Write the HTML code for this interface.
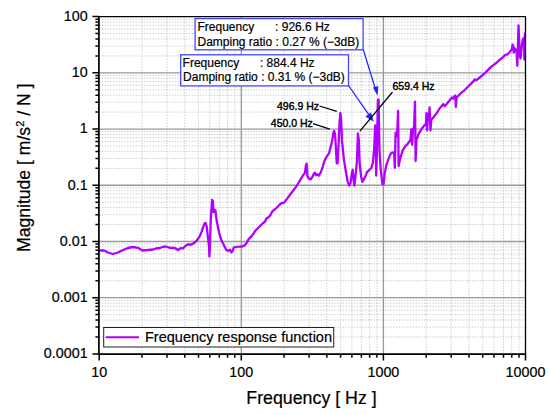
<!DOCTYPE html>
<html><head><meta charset="utf-8"><style>
html,body{margin:0;padding:0;background:#fff;}
svg{display:block;}
.mn{stroke:#c8c8c8;stroke-width:1;stroke-dasharray:1.3 1.5;}
.mj{stroke:#999999;stroke-width:1.3;}
text{font-family:"Liberation Sans", sans-serif;fill:#000;stroke:#000;stroke-width:0.2px;}
.tl{font-size:14.3px;}
.an{font-size:12px;}
.pk{font-size:10.5px;stroke:#000;stroke-width:0.4px;}
</style></head><body>
<svg width="550" height="415" viewBox="0 0 550 415">
<rect width="550" height="415" fill="#fff"/>
<line x1="141.98" y1="16.60" x2="141.98" y2="353.92" class="mn"/>
<line x1="167.00" y1="16.60" x2="167.00" y2="353.92" class="mn"/>
<line x1="184.75" y1="16.60" x2="184.75" y2="353.92" class="mn"/>
<line x1="198.52" y1="16.60" x2="198.52" y2="353.92" class="mn"/>
<line x1="209.78" y1="16.60" x2="209.78" y2="353.92" class="mn"/>
<line x1="219.29" y1="16.60" x2="219.29" y2="353.92" class="mn"/>
<line x1="227.53" y1="16.60" x2="227.53" y2="353.92" class="mn"/>
<line x1="234.80" y1="16.60" x2="234.80" y2="353.92" class="mn"/>
<line x1="284.08" y1="16.60" x2="284.08" y2="353.92" class="mn"/>
<line x1="309.10" y1="16.60" x2="309.10" y2="353.92" class="mn"/>
<line x1="326.85" y1="16.60" x2="326.85" y2="353.92" class="mn"/>
<line x1="340.62" y1="16.60" x2="340.62" y2="353.92" class="mn"/>
<line x1="351.88" y1="16.60" x2="351.88" y2="353.92" class="mn"/>
<line x1="361.39" y1="16.60" x2="361.39" y2="353.92" class="mn"/>
<line x1="369.63" y1="16.60" x2="369.63" y2="353.92" class="mn"/>
<line x1="376.90" y1="16.60" x2="376.90" y2="353.92" class="mn"/>
<line x1="426.18" y1="16.60" x2="426.18" y2="353.92" class="mn"/>
<line x1="451.20" y1="16.60" x2="451.20" y2="353.92" class="mn"/>
<line x1="468.95" y1="16.60" x2="468.95" y2="353.92" class="mn"/>
<line x1="482.72" y1="16.60" x2="482.72" y2="353.92" class="mn"/>
<line x1="493.98" y1="16.60" x2="493.98" y2="353.92" class="mn"/>
<line x1="503.49" y1="16.60" x2="503.49" y2="353.92" class="mn"/>
<line x1="511.73" y1="16.60" x2="511.73" y2="353.92" class="mn"/>
<line x1="519.00" y1="16.60" x2="519.00" y2="353.92" class="mn"/>
<line x1="99.20" y1="337.00" x2="525.50" y2="337.00" class="mn"/>
<line x1="99.20" y1="327.10" x2="525.50" y2="327.10" class="mn"/>
<line x1="99.20" y1="320.07" x2="525.50" y2="320.07" class="mn"/>
<line x1="99.20" y1="314.62" x2="525.50" y2="314.62" class="mn"/>
<line x1="99.20" y1="310.17" x2="525.50" y2="310.17" class="mn"/>
<line x1="99.20" y1="306.41" x2="525.50" y2="306.41" class="mn"/>
<line x1="99.20" y1="303.15" x2="525.50" y2="303.15" class="mn"/>
<line x1="99.20" y1="300.27" x2="525.50" y2="300.27" class="mn"/>
<line x1="99.20" y1="280.78" x2="525.50" y2="280.78" class="mn"/>
<line x1="99.20" y1="270.88" x2="525.50" y2="270.88" class="mn"/>
<line x1="99.20" y1="263.85" x2="525.50" y2="263.85" class="mn"/>
<line x1="99.20" y1="258.40" x2="525.50" y2="258.40" class="mn"/>
<line x1="99.20" y1="253.95" x2="525.50" y2="253.95" class="mn"/>
<line x1="99.20" y1="250.19" x2="525.50" y2="250.19" class="mn"/>
<line x1="99.20" y1="246.93" x2="525.50" y2="246.93" class="mn"/>
<line x1="99.20" y1="244.05" x2="525.50" y2="244.05" class="mn"/>
<line x1="99.20" y1="224.56" x2="525.50" y2="224.56" class="mn"/>
<line x1="99.20" y1="214.66" x2="525.50" y2="214.66" class="mn"/>
<line x1="99.20" y1="207.63" x2="525.50" y2="207.63" class="mn"/>
<line x1="99.20" y1="202.18" x2="525.50" y2="202.18" class="mn"/>
<line x1="99.20" y1="197.73" x2="525.50" y2="197.73" class="mn"/>
<line x1="99.20" y1="193.97" x2="525.50" y2="193.97" class="mn"/>
<line x1="99.20" y1="190.71" x2="525.50" y2="190.71" class="mn"/>
<line x1="99.20" y1="187.83" x2="525.50" y2="187.83" class="mn"/>
<line x1="99.20" y1="168.34" x2="525.50" y2="168.34" class="mn"/>
<line x1="99.20" y1="158.44" x2="525.50" y2="158.44" class="mn"/>
<line x1="99.20" y1="151.41" x2="525.50" y2="151.41" class="mn"/>
<line x1="99.20" y1="145.96" x2="525.50" y2="145.96" class="mn"/>
<line x1="99.20" y1="141.51" x2="525.50" y2="141.51" class="mn"/>
<line x1="99.20" y1="137.75" x2="525.50" y2="137.75" class="mn"/>
<line x1="99.20" y1="134.49" x2="525.50" y2="134.49" class="mn"/>
<line x1="99.20" y1="131.61" x2="525.50" y2="131.61" class="mn"/>
<line x1="99.20" y1="112.12" x2="525.50" y2="112.12" class="mn"/>
<line x1="99.20" y1="102.22" x2="525.50" y2="102.22" class="mn"/>
<line x1="99.20" y1="95.19" x2="525.50" y2="95.19" class="mn"/>
<line x1="99.20" y1="89.74" x2="525.50" y2="89.74" class="mn"/>
<line x1="99.20" y1="85.29" x2="525.50" y2="85.29" class="mn"/>
<line x1="99.20" y1="81.53" x2="525.50" y2="81.53" class="mn"/>
<line x1="99.20" y1="78.27" x2="525.50" y2="78.27" class="mn"/>
<line x1="99.20" y1="75.39" x2="525.50" y2="75.39" class="mn"/>
<line x1="99.20" y1="55.90" x2="525.50" y2="55.90" class="mn"/>
<line x1="99.20" y1="46.00" x2="525.50" y2="46.00" class="mn"/>
<line x1="99.20" y1="38.97" x2="525.50" y2="38.97" class="mn"/>
<line x1="99.20" y1="33.52" x2="525.50" y2="33.52" class="mn"/>
<line x1="99.20" y1="29.07" x2="525.50" y2="29.07" class="mn"/>
<line x1="99.20" y1="25.31" x2="525.50" y2="25.31" class="mn"/>
<line x1="99.20" y1="22.05" x2="525.50" y2="22.05" class="mn"/>
<line x1="99.20" y1="19.17" x2="525.50" y2="19.17" class="mn"/>
<line x1="241.30" y1="16.60" x2="241.30" y2="353.92" class="mj"/>
<line x1="383.40" y1="16.60" x2="383.40" y2="353.92" class="mj"/>
<line x1="99.20" y1="72.82" x2="525.50" y2="72.82" class="mj"/>
<line x1="99.20" y1="129.04" x2="525.50" y2="129.04" class="mj"/>
<line x1="99.20" y1="185.26" x2="525.50" y2="185.26" class="mj"/>
<line x1="99.20" y1="241.48" x2="525.50" y2="241.48" class="mj"/>
<line x1="99.20" y1="297.70" x2="525.50" y2="297.70" class="mj"/>
<defs><clipPath id="pc"><rect x="99.20" y="16.60" width="426.30" height="337.32"/></clipPath></defs>
<polyline clip-path="url(#pc)" points="99.5,250.5 104.0,250.5 108.0,252.5 113.0,254.0 118.0,252.5 123.0,250.0 128.0,248.0 133.0,247.0 138.0,247.8 142.5,250.5 148.0,250.0 153.0,249.5 156.0,248.5 160.0,248.0 163.0,246.8 166.0,246.5 170.0,247.8 175.0,248.0 178.0,250.0 181.0,248.0 183.0,248.5 185.0,246.2 187.6,244.5 191.8,244.5 194.3,242.8 196.9,240.3 199.4,236.9 201.5,231.9 203.2,226.8 204.5,223.4 205.7,223.0 206.6,226.0 207.8,236.1 209.1,247.0 209.4,256.4 209.9,246.6 210.8,218.4 212.1,199.8 212.8,201.3 213.6,212.2 214.6,209.8 215.5,210.6 216.8,221.6 219.1,232.5 221.4,240.3 224.6,246.6 226.6,250.2 228.3,250.8 229.9,249.7 231.5,252.4 232.6,250.8 233.7,247.5 235.8,246.8 239.1,246.7 242.4,246.5 244.5,245.4 246.7,242.7 248.9,238.9 252.1,235.6 255.4,230.7 258.6,227.5 261.9,224.2 265.1,221.5 266.2,218.8 268.4,217.2 270.2,215.5 272.3,211.4 275.2,209.2 278.1,206.3 281.0,203.4 283.9,202.7 286.8,199.1 290.2,194.5 293.9,189.7 296.7,185.8 299.6,181.0 302.5,176.2 304.9,172.8 305.9,165.6 306.6,163.7 307.1,168.5 307.3,175.7 308.8,178.6 310.4,179.5 312.2,177.2 314.1,173.3 315.0,172.8 316.0,175.2 317.5,174.3 318.9,175.7 320.8,172.3 322.8,166.6 324.3,161.3 326.7,156.6 329.0,153.4 330.6,147.2 332.2,140.9 333.3,133.1 334.2,131.0 335.1,134.7 336.1,151.9 336.8,163.4 337.6,163.4 338.6,144.1 339.5,123.8 340.3,113.0 341.1,119.1 342.0,140.9 343.9,159.6 345.8,171.2 347.7,181.8 349.2,185.6 350.6,182.7 352.0,172.2 352.7,169.8 353.5,178.9 354.3,185.6 355.4,177.0 356.9,161.6 357.9,133.5 358.8,140.0 359.7,164.5 361.2,177.0 362.3,181.8 364.1,178.9 365.5,176.0 367.0,172.2 369.0,170.3 371.4,168.0 372.9,162.5 374.2,148.4 375.2,125.5 375.8,140.0 376.2,175.5 376.8,156.0 377.9,100.0 378.6,99.5 379.5,151.6 380.8,170.3 382.5,184.4 383.5,184.2 384.7,173.4 386.2,165.6 388.6,158.6 390.9,153.4 392.7,152.5 394.1,152.5 394.8,167.8 395.6,132.6 396.3,136.2 397.2,132.6 398.1,111.0 398.6,166.0 399.9,159.7 402.6,150.7 405.3,146.2 408.1,143.4 410.4,140.0 411.3,129.5 412.1,144.8 413.1,128.5 414.0,127.5 415.0,101.6 415.6,161.1 416.5,140.0 418.5,134.2 421.3,129.4 424.2,125.6 425.8,124.6 426.5,113.1 427.1,130.3 428.1,114.1 429.0,118.8 429.6,107.3 430.4,130.3 431.3,119.8 433.8,116.9 436.7,113.1 439.6,108.5 441.5,106.3 443.3,104.1 444.6,106.2 446.6,104.1 449.3,100.8 451.9,97.4 453.3,98.8 454.6,96.1 455.3,95.5 455.9,107.0 456.6,97.4 458.6,95.5 461.2,92.8 463.9,90.8 465.2,89.5 467.9,86.8 471.8,82.9 473.8,80.9 474.5,79.5 476.5,80.2 479.8,77.5 483.8,74.2 487.1,70.9 490.8,67.1 493.7,64.9 496.6,62.8 499.5,59.9 502.4,57.7 505.3,54.8 507.5,54.3 510.0,51.8 511.9,49.3 512.5,44.6 513.1,45.5 513.8,52.6 514.4,48.0 515.6,49.3 516.5,51.8 517.3,65.8 517.9,49.3 518.5,25.3 519.0,36.8 519.8,55.8 520.6,58.3 521.3,50.5 522.3,42.4 523.1,38.6 524.0,38.0 524.4,59.5 524.8,35.5 525.3,33.0" fill="none" stroke="#b000ff" stroke-width="2.3" stroke-linejoin="round" stroke-linecap="round"/>
<path d="M99.20 353.92V360.42M241.30 353.92V360.42M383.40 353.92V360.42M525.50 353.92V360.42M141.98 353.92V357.72M167.00 353.92V357.72M184.75 353.92V357.72M198.52 353.92V357.72M209.78 353.92V357.72M219.29 353.92V357.72M227.53 353.92V357.72M234.80 353.92V357.72M284.08 353.92V357.72M309.10 353.92V357.72M326.85 353.92V357.72M340.62 353.92V357.72M351.88 353.92V357.72M361.39 353.92V357.72M369.63 353.92V357.72M376.90 353.92V357.72M426.18 353.92V357.72M451.20 353.92V357.72M468.95 353.92V357.72M482.72 353.92V357.72M493.98 353.92V357.72M503.49 353.92V357.72M511.73 353.92V357.72M519.00 353.92V357.72M99.20 16.60H92.40M99.20 72.82H92.40M99.20 129.04H92.40M99.20 185.26H92.40M99.20 241.48H92.40M99.20 297.70H92.40M99.20 353.92H92.40M99.20 337.00H95.40M99.20 327.10H95.40M99.20 320.07H95.40M99.20 314.62H95.40M99.20 310.17H95.40M99.20 306.41H95.40M99.20 303.15H95.40M99.20 300.27H95.40M99.20 280.78H95.40M99.20 270.88H95.40M99.20 263.85H95.40M99.20 258.40H95.40M99.20 253.95H95.40M99.20 250.19H95.40M99.20 246.93H95.40M99.20 244.05H95.40M99.20 224.56H95.40M99.20 214.66H95.40M99.20 207.63H95.40M99.20 202.18H95.40M99.20 197.73H95.40M99.20 193.97H95.40M99.20 190.71H95.40M99.20 187.83H95.40M99.20 168.34H95.40M99.20 158.44H95.40M99.20 151.41H95.40M99.20 145.96H95.40M99.20 141.51H95.40M99.20 137.75H95.40M99.20 134.49H95.40M99.20 131.61H95.40M99.20 112.12H95.40M99.20 102.22H95.40M99.20 95.19H95.40M99.20 89.74H95.40M99.20 85.29H95.40M99.20 81.53H95.40M99.20 78.27H95.40M99.20 75.39H95.40M99.20 55.90H95.40M99.20 46.00H95.40M99.20 38.97H95.40M99.20 33.52H95.40M99.20 29.07H95.40M99.20 25.31H95.40M99.20 22.05H95.40M99.20 19.17H95.40" stroke="#000" stroke-width="1.5" fill="none"/>
<path d="M99.20 16.60H525.50V353.92" stroke="#000" stroke-width="1.3" fill="none"/>
<path d="M98.90 16.00V354.12H526.10" stroke="#000" stroke-width="1.7" fill="none"/>
<text x="99.20" y="376.9" text-anchor="middle" class="tl">10</text><text x="241.30" y="376.9" text-anchor="middle" class="tl">100</text><text x="383.40" y="376.9" text-anchor="middle" class="tl">1000</text><text x="525.50" y="376.9" text-anchor="middle" class="tl">10000</text>
<text x="87.6" y="20.90" text-anchor="end" class="tl">100</text><text x="87.6" y="77.12" text-anchor="end" class="tl">10</text><text x="87.6" y="133.34" text-anchor="end" class="tl">1</text><text x="87.6" y="189.56" text-anchor="end" class="tl">0.1</text><text x="87.6" y="245.78" text-anchor="end" class="tl">0.01</text><text x="87.6" y="302.00" text-anchor="end" class="tl">0.001</text><text x="87.6" y="358.22" text-anchor="end" class="tl">0.0001</text>
<text x="311.5" y="403.6" text-anchor="middle" style="font-size:17.8px">Frequency [ Hz ]</text>
<text transform="translate(30,167.8) rotate(-90)" text-anchor="middle" style="font-size:17.6px">Magnitude [ m/s<tspan dy="-6" style="font-size:11px">2</tspan><tspan dy="6"> / N ]</tspan></text>
<!-- legend -->
<rect x="103.7" y="327.5" width="230" height="19.5" fill="#fff" stroke="#222" stroke-width="1"/>
<line x1="105.6" y1="337.3" x2="139" y2="337.3" stroke="#b000ff" stroke-width="2"/>
<text x="145" y="341.5" style="font-size:14.5px">Frequency response function</text>
<!-- annotations -->
<rect x="195.1" y="18.6" width="168" height="31.2" fill="#fff" stroke="#4444ff" stroke-width="1.3"/>
<text x="197.5" y="31" class="an">Frequency</text><text x="275.1" y="31" class="an">: 926.6 Hz</text>
<text x="197.5" y="45.5" class="an">Damping ratio : 0.27 % (&#8722;3dB)</text>
<rect x="180.7" y="54.8" width="167.8" height="31.1" fill="#fff" stroke="#4444ff" stroke-width="1.3"/>
<text x="182.6" y="66.7" class="an">Frequency</text><text x="259.9" y="66.7" class="an">: 884.4 Hz</text>
<text x="183.1" y="81.4" class="an">Damping ratio : 0.31 % (&#8722;3dB)</text>
<line x1="363.2" y1="49.4" x2="375.6" y2="89.6" stroke="#2222ff" stroke-width="1.3"/>
<path d="M377.6 95.8 L372.9 87.5 L378.4 86.1 Z" fill="#2222ff"/>
<line x1="348.5" y1="85.5" x2="369.5" y2="115.6" stroke="#2222ff" stroke-width="1.3"/>
<path d="M373.7 121.7 L365.4 116.4 L371.0 112.4 Z" fill="#2222ff"/>
<!-- peak labels -->
<text x="277" y="109.6" class="pk">496.9 Hz</text>
<line x1="319.5" y1="106" x2="336.8" y2="111.3" stroke="#000" stroke-width="1.25"/>
<text x="270.8" y="127" class="pk">450.0 Hz</text>
<line x1="313" y1="123.7" x2="329.8" y2="129.2" stroke="#000" stroke-width="1.25"/>
<text x="392.5" y="90" class="pk">659.4 Hz</text>
<line x1="392.5" y1="92" x2="359.9" y2="131.1" stroke="#000" stroke-width="1.25"/>
</svg>
</body></html>
